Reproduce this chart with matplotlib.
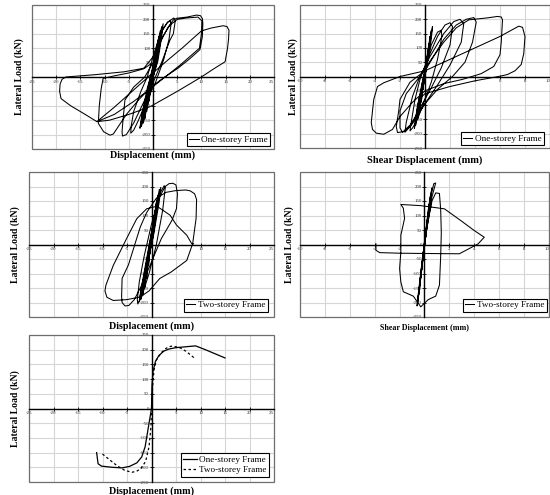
import numpy as np
import matplotlib.pyplot as plt
from matplotlib.patches import Rectangle

plt.rcParams["font.family"] = ["Liberation Serif", "DejaVu Serif"]
plt.rcParams["axes.unicode_minus"] = False

# ── Data ───────────────────────────────────────────────────────────────────────

# One-storey frame, lateral load vs. displacement (mm, kN)
one_disp_x = [
    0, 0.3, 0.15, -0.2, -0.5, -0.35, 0.0, 0.6, 0.45, 0.0, -0.5, -0.9, -0.7, -0.1,
    0.5, 0.9, 0.7, 0.2, -0.6, -1.3, -1.1, -0.4, 0.4, 1.2, 1.0, 0.4, -0.9, -1.7,
    -1.4, -0.6, 0.5, 1.5, 1.3, 0.6, -1.2, -2.0, -1.7, -0.8, 0.6, 1.8, 1.6, 0.8,
    -1.5, -2.4, -2.0, -1.0, 0.6, 2.1, 1.8, 1.0, -1.8, -2.7, -2.3, -1.2,
    0, 1, 2, 3, 3.6, 3.7, 3.3, 2.2, 0.5, -1.5, -3, -4, -4.6, -4.5, -4, -2.5, -1.2,
    0, 1.5, 3, 4.3, 4.6, 4.2, 3.5, 2, 0, -2, -4, -5.5, -6.3, -6.4, -6.2, -5.8, -4, -1.7,
    0, 1.5, 3, 4.2, 4.9, 7, 9, 9.8, 10.2, 10.3, 10.2, 9.7, 7.5, 5.2, 2, -0.6, -3, -5.5,
    -7.3, -8.2, -8.9, -10.2, -11.3, -11.1, -10.7, -10.3, -8, -5, -2,
    0, 2, 3.5, 5, 7, 9.3, 10.1, 10.0, 9.6, 5.5, -0.5, -4, -8, -11.6,
    -8, -4, -1, 3, 6, 10, 12, 14.5, 15.3, 15.7, 15.6, 15.4, 14.9, 12.8, 9.7, 5, -0.6,
    -5, -9, -11.6, -14, -17, -19.0, -19.3, -19.2, -18.8, -18, -12, -6, -1.7, -0.5,
]
one_disp_y = [
    0, 40, 20, -15, -45, -25, 5, 80, 50, 0, -45, -85, -55, 0,
    60, 115, 75, 20, -60, -120, -80, -10, 70, 140, 100, 30, -70, -145,
    -100, -20, 80, 160, 115, 40, -85, -160, -115, -30, 80, 175, 130, 50,
    -95, -172, -125, -35, 85, 185, 140, 55, -100, -178, -130, -40,
    30, 110, 165, 190, 195, 180, 130, 60, -20, -90, -150, -185, -195, -170, -120, -50, 0,
    70, 150, 190, 205, 195, 150, 128, 60, -20, -90, -160, -200, -205, -190, -150, -80, -35, 0,
    50, 120, 170, 198, 204, 208, 215, 213, 203, 185, 140, 95, 62, 31, -5, -38, -80, -130,
    -175, -198, -202, -190, -161, -100, -40, -5, 4, 14, 28,
    70, 140, 180, 200, 205, 208, 195, 150, 100, 40, -40, -85, -130, -155,
    -105, -45, 0, 58, 100, 160, 170, 178, 175, 162, 130, 100, 53, 31, -3, -50, -103,
    -130, -150, -155, -130, -100, -75, -50, -25, -8, 0, 8, 18, 31, 45,
]

# One-storey frame, lateral load vs. shear displacement
one_shear_x = [
    0, 0.1, 0.05, -0.1, -0.15, -0.1, 0.0, 0.2, 0.15, 0.0, -0.2, -0.3, -0.22, 0.0,
    0.2, 0.3, 0.22, 0.05, -0.3, -0.45, -0.35, -0.1, 0.2, 0.4, 0.32, 0.1, -0.4,
    -0.6, -0.48, -0.15, 0.25, 0.5, 0.4, 0.1, -0.5, -0.75, -0.6, -0.2, 0.3, 0.6,
    0.5, 0.15, -0.6, -0.85, -0.7, -0.25,
    0, 0.5, 1.0, 1.3, 1.35, 1.0, 0.5, 0, -0.6, -1.0, -1.2, -1.1, -0.8, -0.4,
    0.2, 1.0, 1.6, 2.0, 2.2, 2.0, 1.3, 0.5, -0.4, -1.2, -1.6, -1.5, -1.0, -0.5,
    0.4, 1.5, 2.3, 2.8, 3.1, 2.9, 2.0, 1.0, 0, -1.0, -1.6, -2.2, -2.3, -2.1, -2.0, -1.2,
    0, 1.5, 2.5, 3.3, 3.9, 4.1, 3.8, 3.2, 2.2, 1, 0, -1.2, -1.8, -2.0, -2.0, -1.5, -0.5,
    0.5, 1.5, 2.5, 3.5, 5, 5.8, 6.1, 6.2, 6.1, 6.0, 5.5, 4.5, 3, 1.5, 0, -1, -2, -2.6,
    -3.3, -3.9, -4.2, -4.3, -4.1, -3.8, -3.3, -2, 0,
    2, 4, 6, 7.5, 7.8, 8.0, 7.9, 7.7, 7.2, 6.6, 6, 4, 2, 0, -0.5,
]
one_shear_y = [
    0, 40, 20, -20, -45, -25, 5, 80, 50, 0, -50, -90, -55, 5,
    65, 115, 75, 15, -65, -125, -80, -5, 75, 140, 100, 25, -80,
    -150, -100, -15, 85, 160, 115, 30, -90, -170, -120, -20, 90, 175,
    130, 35, -100, -182, -135, -25,
    20, 110, 155, 162, 140, 60, -20, -80, -150, -180, -190, -160, -80, -10,
    60, 140, 180, 188, 175, 110, 30, -40, -110, -175, -195, -160, -70, -10,
    70, 150, 192, 200, 185, 120, 40, -30, -95, -165, -192, -196, -175, -120, -80, -20,
    20, 130, 180, 200, 206, 190, 120, 50, 0, -45, -95, -170, -195, -180, -120, -60, -5,
    60, 120, 170, 198, 205, 210, 208, 198, 120, 76, 35, 10, -10, -25, -50, -90, -140, -185,
    -202, -198, -185, -161, -80, -35, -22, 0, 20,
    60, 100, 140, 176, 172, 140, 80, 42, 20, 7, 1, -15, -35, -60, -80,
]

# Two-storey frame, lateral load vs. displacement
two_disp_x = [
    0, 0.2, 0.1, -0.2, -0.3, -0.2, 0.0, 0.4, 0.25, -0.1, -0.5, -0.6, -0.45, -0.1,
    0.4, 0.7, 0.5, 0.0, -0.8, -1.0, -0.8, -0.2, 0.5, 1.0, 0.75, 0.1, -1.1, -1.4,
    -1.1, -0.3, 0.6, 1.3, 1.0, 0.2, -1.4, -1.8, -1.5, -0.5, 0.6, 1.6, 1.3, 0.3,
    -1.7, -2.2, -1.9, -0.7, 0.6, 1.9, 1.6, 0.4, -2.0, -2.5, -2.2, -0.9,
    0.5, 1.5, 2.6, 2.8, 2.3, 1, -0.5, -2, -2.8, -2.9, -2.5, -1.5,
    0, 1.5, 2.8, 3.6, 4.4, 5.0, 5.3, 5.1, 4.2, 2, 0, -2, -3.5, -4.6, -5.4, -6.0, -6.1, -6,
    -4.7, -2.3, -1, 1, 3, 5, 7.0, 7.9, 8.8, 9.2, 9.1, 8.4, 7.2, 4, 1.7, -0.5, -2.3, -5,
    -7.8, -9.1, -9.5, -9.3, -7.8, -5.1, -3.0, -1.0, 1.1, 3.8, 5.1, 7.2, 8.2, 8.6,
]
two_disp_y = [
    0, 30, 15, -15, -30, -15, 5, 70, 45, 0, -45, -70, -45, 5,
    80, 110, 75, 10, -80, -115, -80, 0, 90, 145, 105, 20, -100, -150,
    -110, -10, 100, 170, 125, 25, -120, -175, -130, -20, 100, 190, 140, 25,
    -135, -190, -145, -30, 100, 197, 150, 30, -145, -197, -160, -40,
    90, 170, 203, 195, 120, 0, -100, -180, -205, -190, -130, -40,
    70, 160, 200, 210, 211, 205, 175, 124, 84, 20, -60, -140, -190, -210, -212, -200, -180, -117,
    -70, 60, 110, 160, 180, 186, 188, 185, 175, 155, 90, 3, -55, -95, -117, -160, -181, -190,
    -193, -182, -160, -140, -72, 20, 89, 123, 132, 101, 67, 32, 3, 2,
]

# Two-storey frame, lateral load vs. shear displacement
two_shear_x = [
    0, 0.1, 0.05, -0.05, -0.1, -0.05, 0.05, 0.2, 0.12, -0.05, -0.15, -0.2, -0.12,
    0.05, 0.25, 0.3, 0.2, 0.0, -0.2, -0.3, -0.2, 0.0, 0.3, 0.4, 0.3, 0.05, -0.3,
    -0.4, -0.3, 0.0, 0.4, 0.5, 0.38, 0.05, -0.35, -0.5, -0.4, -0.05, 0.45, 0.6,
    0.45, 0.05, -0.4, -0.55, -0.45, -0.05, 0.55, 0.75, 0.9, 0.6, 0.1, -0.45,
    -0.6, -0.5,
    -0.2, 0.2, 0.6, 0.9, 1.2, 1.3, 1.35, 1.3, 1.2, 0.9, 0.3, -0.3, -0.9, -1.7,
    -1.9, -2.0, -1.9, -1.9, -1.6, -1.7, -1.9, -0.3, 1.6, 2.9, 4.0, 4.8, 4.3, 2.8,
    0, -2, -3.6, -3.9, -3.9,
]
two_shear_y = [
    0, 30, 15, -15, -30, -15, 15, 70, 45, -10, -50, -70, -45,
    10, 90, 110, 75, 10, -75, -110, -75, 5, 120, 145, 105, 15, -100,
    -145, -110, 0, 140, 175, 130, 20, -130, -180, -140, -10, 160, 195,
    150, 25, -150, -200, -160, -20, 175, 210, 212, 165, 30, -170,
    -212, -170,
    -60, 60, 150, 178, 176, 120, 40, -40, -140, -178, -190, -215, -178, -163,
    -129, -83, -25, 32, 90, 125, 138, 134, 123, 83, 48, 25, 2, -32,
    -31, -30, -28, -20, 2,
]

# Envelopes
one_env_x = [-11.2, -10.9, -10.2, -8, -6, -4.5, -3, -2, -1.3, -0.8, -0.3, 0,
             0.1, 0.3, 0.8, 1.5, 2.5, 3.5, 5, 7, 9, 11, 13, 15]
one_env_y = [-150, -188, -196, -200, -202, -197, -185, -165, -130, -80, -30, 0,
             80, 125, 160, 180, 195, 202, 207, 210, 213, 200, 186, 172]
two_env_x = [-10, -8.5, -7, -5.5, -4, -3, -2.2, -1.2, -0.5, -0.1, 0, 0.2, 0.5,
             1, 2, 3, 4, 5, 6, 7, 8, 9]
two_env_y = [-155, -175, -195, -210, -217, -213, -205, -180, -130, -60, 0, 70, 130,
             165, 190, 205, 212, 210, 205, 195, 182, 168]

W, H = 550, 495


def add_axes_px(fig, x0, y0, x1, y1):
    return fig.add_axes([x0 / W, 1 - y1 / H, (x1 - x0) / W, (y1 - y0) / H])


def style(ax, xmax, xstep, xlabel, ylab_x, xlab_y, xlab_size=7.3):
    ax.set_xlim(-xmax, xmax)
    ax.set_ylim(-250, 250)
    xt = np.arange(-xmax, xmax + xstep / 2, xstep)
    ax.set_xticks(xt)
    ax.set_xticklabels(["" if abs(v) < 1e-9 else f"{v:g}" for v in xt])
    yt = np.arange(-250, 251, 50)
    ax.set_yticks(yt)
    ax.set_yticklabels([f"{v:g}" for v in yt])
    ax.grid(True, color="#d6d6d6", lw=0.8)
    ax.set_axisbelow(True)
    for s in ["top", "right"]:
        ax.spines[s].set_visible(False)
    for s in ["left", "bottom"]:
        ax.spines[s].set_position("zero")
        ax.spines[s].set_linewidth(1.0)
        ax.spines[s].set_color("black")
        ax.spines[s].set_zorder(4)
    ax.tick_params(direction="inout", length=2.2, width=0.6, labelsize=3.5,
                   pad=0.8, labelcolor="#333333")
    # keep the edge labels inside the figure
    labels = ax.get_xticklabels()
    labels[-1].set_horizontalalignment("right")
    ax.add_patch(Rectangle((0, 0), 1, 1, transform=ax.transAxes, fill=False,
                           ec="#6e6e6e", lw=0.9, clip_on=False, zorder=3))
    ax.set_xlabel(xlabel, fontsize=xlab_size, fontweight="bold")
    ax.set_ylabel("Lateral Load (kN)", fontsize=7.0, fontweight="bold")
    ax.yaxis.set_label_coords(ylab_x, 0.5)
    ax.xaxis.set_label_coords(0.5, xlab_y)


def legend(ax, anchor, hl=1.0):
    leg = ax.legend(loc="lower right", bbox_to_anchor=anchor, borderaxespad=0,
                    fontsize=6.6, frameon=True, fancybox=False, handlelength=hl,
                    handletextpad=0.3, borderpad=0.25, labelspacing=0.2)
    leg.get_frame().set_edgecolor("black")
    leg.get_frame().set_linewidth(0.8)
    leg.get_frame().set_alpha(1)
    leg.set_zorder(6)


fig = plt.figure(figsize=(W / 100, H / 100), dpi=100)
fig.patch.set_facecolor("white")

ax1 = add_axes_px(fig, 32, 5, 274, 149)
ax1.plot(one_disp_x, one_disp_y, color="black", lw=0.75, label="One-storey Frame")
style(ax1, 25, 5, "Displacement (mm)", -0.035, -0.01)
legend(ax1, (0.985, 0.02))

ax2 = add_axes_px(fig, 300, 5, 550, 148)
ax2.plot(one_shear_x, one_shear_y, color="black", lw=0.75, label="One-storey Frame")
style(ax2, 10, 2, "Shear Displacement (mm)", -0.01, -0.055, 7.5)
legend(ax2, (0.976, 0.02))

ax3 = add_axes_px(fig, 29, 172, 274, 317)
ax3.plot(two_disp_x, two_disp_y, color="black", lw=0.75, label="Two-storey Frame")
style(ax3, 25, 5, "Displacement (mm)", -0.035, -0.028)
legend(ax3, (0.975, 0.037))

ax4 = add_axes_px(fig, 300, 172, 549, 317)
ax4.plot(two_shear_x, two_shear_y, color="black", lw=0.75, label="Two-storey Frame")
style(ax4, 10, 2, "Shear Displacement (mm)", -0.024, -0.048, 5.8)
legend(ax4, (0.99, 0.037))

ax5 = add_axes_px(fig, 29, 335, 274, 482)
ax5.plot(one_env_x, one_env_y, color="black", lw=0.9, label="One-storey Frame")
ax5.plot(two_env_x, two_env_y, color="black", lw=0.9, dashes=(2, 2),
         label="Two-storey Frame")
style(ax5, 25, 5, "Displacement (mm)", -0.035, -0.027)
legend(ax5, (0.98, 0.036), hl=1.5)

fig.savefig("out.png", dpi=100)
